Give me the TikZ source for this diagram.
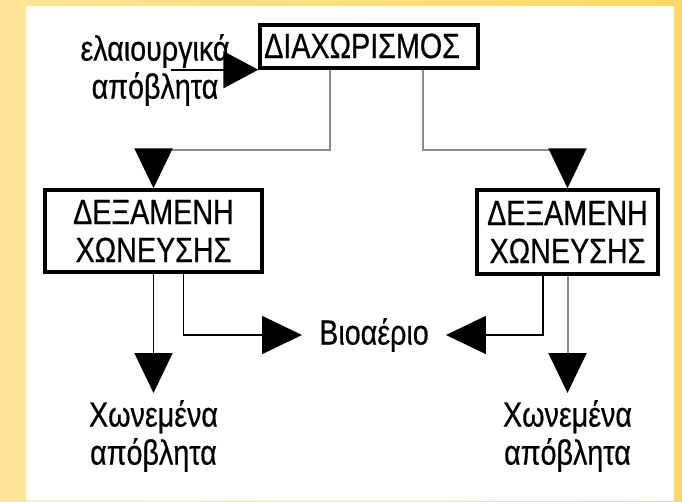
\documentclass[tikz,border=0pt]{standalone}
\usepackage{fontspec}
\setmainfont[FakeStretch=0.82,FakeBold=0.5]{Liberation Sans}
\usetikzlibrary{arrows.meta}
\definecolor{panelL}{RGB}{255,228,152}
\definecolor{panelR}{RGB}{255,216,100}
\definecolor{feedgray}{RGB}{140,140,140}
\tikzset{
  unitbox/.style={draw=black, line width=3.5pt, inner sep=0pt},
  lbl/.style={inner sep=0pt, font=\fontsize{35}{38}\selectfont, align=center},
  bigtip/.style={-{Triangle[length=40pt 0 0,width=38pt 0 0,color=black]}},
  feedtip/.style={-{Triangle[length=35pt 0 0,width=37pt 0 0,color=black]}},
  flow/.style={line width=1.6pt, black},
  feed/.style={line width=2pt, feedgray},
}
\begin{document}
\begin{tikzpicture}[x=1pt,y=-1pt]
% frame and white panel
\shade[left color=panelL,right color=panelR] (0,0) rectangle (682,501);
\fill[white] (26,6) rectangle (674,501);
\useasboundingbox (0,0) rectangle (682,501);

% separation unit
\node[unitbox, minimum width=218pt, minimum height=43pt] (sep) at (369,46.5) {};
\node[lbl, anchor=base west] (septext) at (264,58) {ΔΙΑΧΩΡΙΣΜΟΣ};

% digestion tanks
\node[unitbox, lbl, minimum width=217pt, minimum height=82pt] (tankL) at (153.5,231) {ΔΕΞΑΜΕΝΗ\\ΧΩΝΕΥΣΗΣ};
\node[unitbox, lbl, minimum width=181pt, minimum height=84pt] (tankR) at (567.5,232) {ΔΕΞΑΜΕΝΗ\\ΧΩΝΕΥΣΗΣ};

% inputs and outputs
\node[lbl] (feedtext) at (155,70) {ελαιουργικά\\απόβλητα};
\node[lbl, inner xsep=17pt] (biogas) at (374,335) {Βιοαέριο};
\node[lbl, anchor=north, inner ysep=7pt] (wasteL) at (153.5,393) {Χωνεμένα\\απόβλητα};
\node[lbl, anchor=north, inner ysep=7pt] (wasteR) at (567.5,393) {Χωνεμένα\\απόβλητα};

% connectors
\draw[flow, feedtip] ([xshift=-87pt]sep.south west) -- (sep.south west);
\draw[feed, bigtip] ([xshift=72pt]sep.south west) -- ++(0,80) -| (tankL.north);
\draw[feed, bigtip] ([xshift=165pt]sep.south west) -- ++(0,80) -| (tankR.north);
\draw[flow, bigtip] (tankL.south) -- (wasteL.north);
\draw[flow, bigtip] ([xshift=30pt]tankL.south) |- (biogas.west);
\draw[flow, bigtip] ([xshift=-24.5pt]tankR.south) |- (biogas.east);
\draw[feed, bigtip] (tankR.south) -- (wasteR.north);
\end{tikzpicture}
\end{document}
